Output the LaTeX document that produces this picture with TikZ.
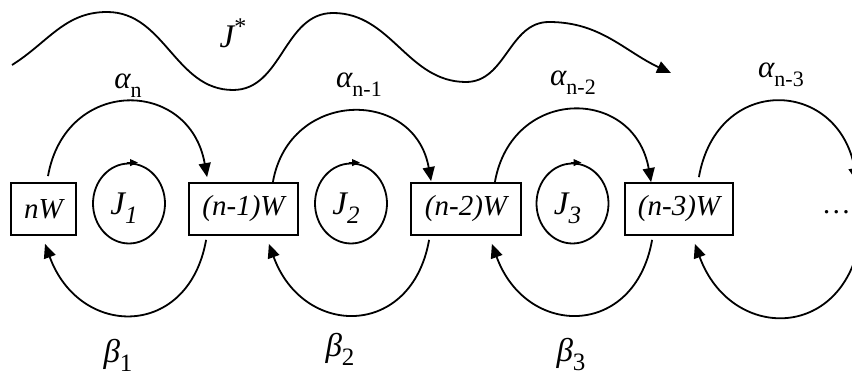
\documentclass[tikz,border=0pt]{standalone}
\usepackage{fontspec}
\setmainfont{Liberation Serif}
\usetikzlibrary{arrows.meta,shapes.geometric}
\begin{document}
\begin{tikzpicture}[x=1pt,y=1pt,
  box/.style={draw, line width=1.8pt, minimum height=52pt, inner sep=0pt,
    font=\fontsize{29}{30}\selectfont\itshape},
  loopc/.style={draw, ellipse, line width=1.8pt, minimum width=72pt,
    minimum height=80pt, inner sep=0pt},
  arc/.style={line width=1.8pt, -{Triangle[length=14pt,width=12pt]}},
  looptip/.style={line width=1pt, -{Triangle[length=8pt,width=7pt]}},
  lab/.style={inner sep=0pt},
  jlab/.style={inner sep=0pt, font=\fontsize{33}{34}\selectfont\itshape},
  alab/.style={inner sep=0pt, font=\fontsize{31}{32}\selectfont\itshape},
  blab/.style={inner sep=0pt, font=\fontsize{33}{34}\selectfont\itshape},
]
\clip (0,0) rectangle (852,377);
\fill[white] (0,0) rectangle (852,377);

% boxes
\node[box, minimum width=65pt]  (nW) at (43.5,168) {nW};
\node[box, minimum width=109pt] (n1) at (243.5,168) {(n-1)W};
\node[box, minimum width=110pt] (n2) at (466,168) {(n-2)W};
\node[box, minimum width=108pt] (n3) at (679,168) {(n-3)W};
\node[lab, anchor=base east, font=\fontsize{29}{30}\selectfont] (dots) at (851,163) {\ldots};
\coordinate (n4top) at (857,195);
\coordinate (n4bot) at (860,137);

% inner loops
\node[loopc] (J1) at (129,173.5) {};
\node[loopc] (J2) at (351,173.5) {};
\node[loopc] (J3) at (572.5,173.5) {};
\draw[looptip] ([xshift=-2pt]J1.north) -- ([xshift=9pt]J1.north);
\draw[looptip] ([xshift=-2pt]J2.north) -- ([xshift=9pt]J2.north);
\draw[looptip] ([xshift=-2pt]J3.north) -- ([xshift=9pt]J3.north);
\node[jlab] (J1t) at ([xshift=-5pt,yshift=-5pt]J1.center) {J\raisebox{-9pt}{\fontsize{25}{25}\selectfont 1}};
\node[jlab] (J2t) at ([xshift=-5pt,yshift=-5pt]J2.center) {J\raisebox{-9pt}{\fontsize{25}{25}\selectfont 2}};
\node[jlab] (J3t) at ([xshift=-5pt,yshift=-5pt]J3.center) {J\raisebox{-9pt}{\fontsize{25}{25}\selectfont 3}};

% upper arcs (alpha)
\draw[arc] ([xshift=4.5pt,yshift=6pt]nW.north) to[out=80,in=100,looseness=1.62] ([xshift=19pt,yshift=5pt]n1.north west);
\draw[arc] ([xshift=-26pt]n1.north east) to[out=80,in=100,looseness=1.53] ([xshift=21pt,yshift=1pt]n2.north west);
\draw[arc] ([xshift=-27pt]n2.north east) to[out=80,in=100,looseness=1.6] ([xshift=27pt]n3.north west);
\draw[arc] ([xshift=-35pt,yshift=5pt]n3.north east) to[out=80,in=100,looseness=1.7] (n4top);

% lower arcs (beta)
\draw[arc] ([xshift=18pt,yshift=-4pt]n1.south west) to[out=-100,in=-70,looseness=1.6] ([xshift=1.5pt,yshift=-8pt]nW.south);
\draw[arc] ([xshift=19pt,yshift=-4pt]n2.south west) to[out=-100,in=-70,looseness=1.6] ([xshift=-30pt,yshift=-8pt]n1.south east);
\draw[arc] ([xshift=28pt,yshift=-4pt]n3.south west) to[out=-100,in=-70,looseness=1.6] ([xshift=-30pt,yshift=-8pt]n2.south east);
\draw[arc] (n4bot) to[out=-100,in=-70,looseness=1.6] ([xshift=-39pt,yshift=-8pt]n3.south east);

% alpha labels
\node[alab] (a1) at (128,291) {α\raisebox{-9pt}{\upshape\fontsize{22}{22}\selectfont n}};
\node[alab] (a2) at (359,292) {α\raisebox{-9pt}{\upshape\fontsize{22}{22}\selectfont n-1}};
\node[alab] (a3) at (573,294) {α\raisebox{-9pt}{\upshape\fontsize{22}{22}\selectfont n-2}};
\node[alab] (a4) at (781,302) {α\raisebox{-9pt}{\upshape\fontsize{22}{22}\selectfont n-3}};

% beta labels
\node[blab] (b1) at (118,22) {β\raisebox{-9pt}{\upshape\fontsize{25}{25}\selectfont 1}};
\node[blab] (b2) at (340,28) {β\raisebox{-9pt}{\upshape\fontsize{25}{25}\selectfont 2}};
\node[blab] (b3) at (571,22) {β\raisebox{-9pt}{\upshape\fontsize{25}{25}\selectfont 3}};

% J* wave
\coordinate (w0) at (12,312);
\coordinate (w6) at (671,304);
\draw[arc] (w0) to[out=32,in=180] (107,365) to[out=0,in=180] (233,287)
  to[out=0,in=180] (333,364) to[out=0,in=180] (466,295)
  to[out=0,in=180] (549,355) to[out=0,in=155] (w6);
\node[jlab] (Js) at (233,344) {J\raisebox{13pt}{\upshape\fontsize{24}{24}\selectfont *}};
\end{tikzpicture}
\end{document}
